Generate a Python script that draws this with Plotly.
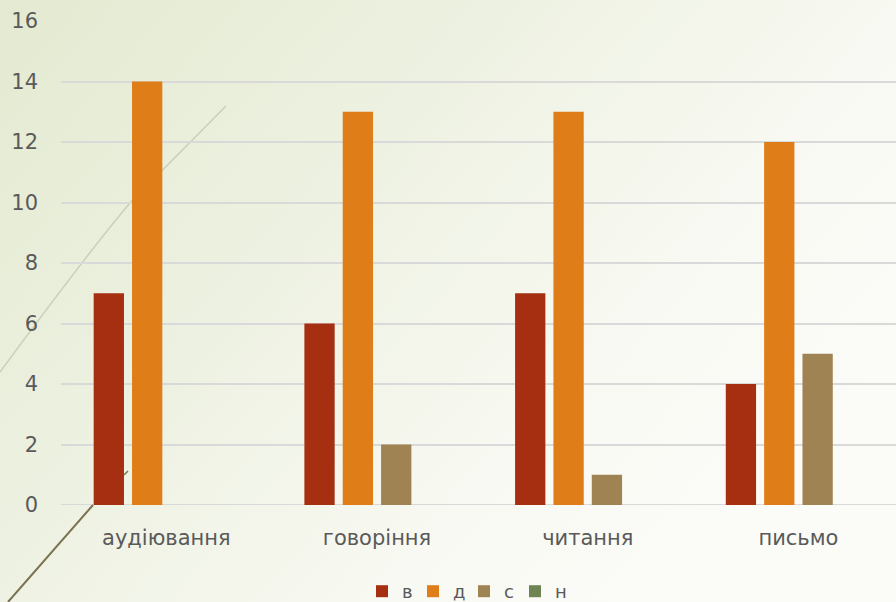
import base64
import plotly.graph_objects as go

categories = ["аудіювання", "говоріння", "читання", "письмо"]
series_names = ["в", "д", "с", "н"]
values_v = [7, 6, 7, 4]
values_d = [14, 13, 13, 12]
values_s = [0, 2, 1, 5]
values_n = [0, 0, 0, 0]
colors = ["#a52f10", "#df7d19", "#a08352", "#6e8452"]
y_ticks = [0, 2, 4, 6, 8, 10, 12, 14, 16]

W, H = 896, 602
ML, MR, MT, MB = 61, 0, 21, 97
PW, PH = W - ML - MR, H - MT - MB

def px(x):
    return (x - ML) / PW

def py(y):
    return (H - MB - y) / PH

svg = f'''<svg xmlns="http://www.w3.org/2000/svg" width="{W}" height="{H}" viewBox="0 0 {W} {H}">
<defs><linearGradient id="g" x1="0" y1="0" x2="1" y2="0.6">
<stop offset="0" stop-color="#e4ead1"/>
<stop offset="0.4" stop-color="#edf1e1"/>
<stop offset="0.75" stop-color="#f8f9f2"/>
<stop offset="1" stop-color="#fbfcf8"/>
</linearGradient></defs>
<rect width="{W}" height="{H}" fill="url(#g)"/>
</svg>'''
bg_uri = "data:image/svg+xml;base64," + base64.b64encode(svg.encode()).decode()

fig = go.Figure()
for name, vals, col in zip(series_names, [values_v, values_d, values_s, values_n], colors):
    fig.add_trace(go.Bar(x=categories, y=vals, name=name, marker=dict(color=col, line=dict(width=0))))

shapes = [
    dict(type="path", xref="paper", yref="paper",
         path=f"M {px(0)},{py(372)} Q {px(90)},{py(250)} {px(130)},{py(203)} L {px(226)},{py(106)}",
         line=dict(color="rgba(190,195,170,0.7)", width=1.5), layer="below"),
    dict(type="line", xref="paper", yref="paper",
         x0=px(8), y0=py(602), x1=px(93), y1=py(505),
         line=dict(color="#7a7250", width=2), layer="above"),
    dict(type="line", xref="paper", yref="paper",
         x0=px(124), y0=py(475), x1=px(128), y1=py(471),
         line=dict(color="#7a7250", width=1.5), layer="above"),
]

FONT = "'DejaVu Sans', sans-serif"

fig.update_layout(
    width=W, height=H,
    margin=dict(l=ML, r=MR, t=MT, b=MB, autoexpand=False),
    paper_bgcolor="#eef1e3",
    plot_bgcolor="rgba(0,0,0,0)",
    images=[dict(source=bg_uri, xref="paper", yref="paper",
                 x=px(0), y=py(0), sizex=W / PW, sizey=H / PH,
                 xanchor="left", yanchor="top", sizing="stretch", layer="below")],
    shapes=shapes,
    barmode="group",
    bargap=0.272,
    bargroupgap=0.21,
    font=dict(family=FONT, color="#595959", size=20),
    showlegend=True,
    legend=dict(orientation="h", x=px(362), xref="paper", xanchor="left",
                y=py(573), yref="paper", yanchor="top",
                font=dict(family=FONT, size=18, color="#595959"), bgcolor="rgba(0,0,0,0)",
                itemwidth=30, entrywidth=6, entrywidthmode="pixels", traceorder="normal"),
    yaxis=dict(range=[0, 16], tickvals=y_ticks, showgrid=True,
               gridcolor="#d9d9d9", gridwidth=2, zeroline=False,
               showline=False, ticks="", ticklabelstandoff=22,
               tickfont=dict(family=FONT, size=21, color="#5a5a5a")),
    xaxis=dict(showgrid=False, showline=False, ticks="", zeroline=False,
               range=[-0.5, 3.463],
               tickfont=dict(family=FONT, size=21, color="#5a5a5a"), ticklabelstandoff=18),
)
fig.add_hline(y=0, line=dict(color="#d9d9d9", width=2), layer="below")

fig.write_html("out.html", config={"displayModeBar": False},
               post_script="document.body.style.margin='0';document.body.style.overflow='hidden';")
